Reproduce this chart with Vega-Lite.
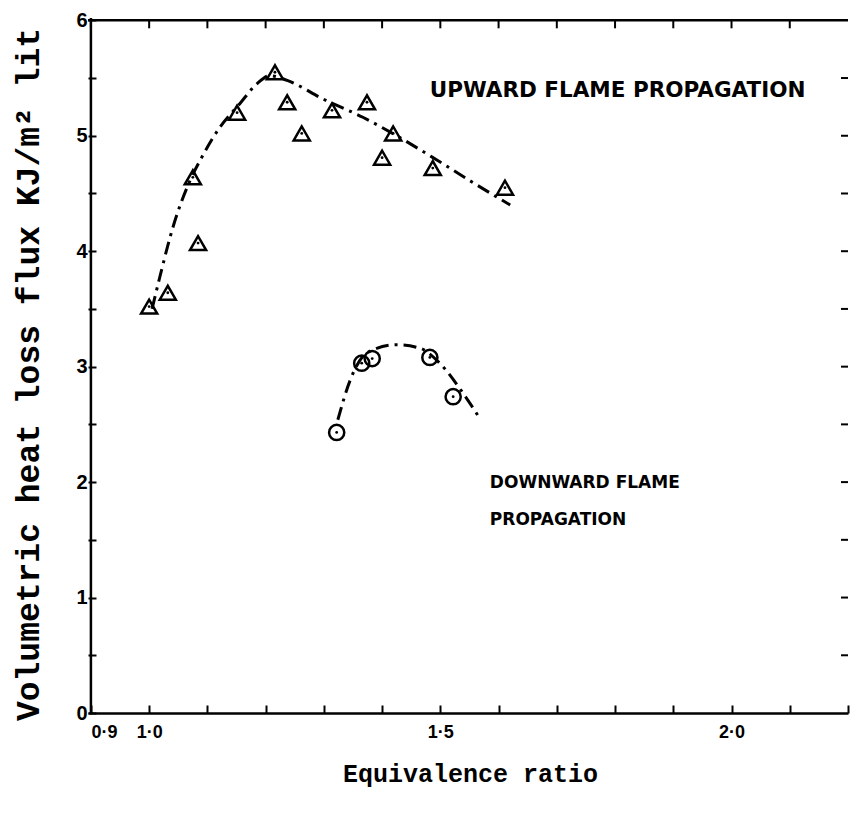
{
  "$schema": "https://vega.github.io/schema/vega-lite/v6.json",
  "width": 760,
  "height": 695,
  "autosize": {"type": "none"},
  "padding": {"left": 88, "top": 18, "right": 4, "bottom": 105},
  "background": "white",
  "config": {
    "view": {"stroke": null},
    "axis": {"grid": false, "domainColor": "black", "tickColor": "black", "labelColor": "black", "titleColor": "black", "domainWidth": 2.5, "tickWidth": 2}
  },
  "datasets": {
    "pts": [
      {"series": "up", "x": 1.0, "y": 3.52},
      {"series": "up", "x": 1.032, "y": 3.64},
      {"series": "up", "x": 1.084, "y": 4.07},
      {"series": "up", "x": 1.075, "y": 4.64},
      {"series": "up", "x": 1.151, "y": 5.2},
      {"series": "up", "x": 1.216, "y": 5.55},
      {"series": "up", "x": 1.237, "y": 5.29},
      {"series": "up", "x": 1.262, "y": 5.02},
      {"series": "up", "x": 1.314, "y": 5.22},
      {"series": "up", "x": 1.374, "y": 5.29},
      {"series": "up", "x": 1.4, "y": 4.81},
      {"series": "up", "x": 1.419, "y": 5.02},
      {"series": "up", "x": 1.487, "y": 4.72},
      {"series": "up", "x": 1.611, "y": 4.55},
      {"series": "down", "x": 1.322, "y": 2.43},
      {"series": "down", "x": 1.365, "y": 3.03},
      {"series": "down", "x": 1.383, "y": 3.07},
      {"series": "down", "x": 1.482, "y": 3.08},
      {"series": "down", "x": 1.522, "y": 2.74}
    ],
    "curves": [
      {"series": "up", "x": 1.005, "y": 3.5},
      {"series": "up", "x": 1.018, "y": 3.77},
      {"series": "up", "x": 1.041, "y": 4.21},
      {"series": "up", "x": 1.07, "y": 4.61},
      {"series": "up", "x": 1.09, "y": 4.81},
      {"series": "up", "x": 1.121, "y": 5.07},
      {"series": "up", "x": 1.156, "y": 5.28},
      {"series": "up", "x": 1.185, "y": 5.45},
      {"series": "up", "x": 1.207, "y": 5.52},
      {"series": "up", "x": 1.237, "y": 5.48},
      {"series": "up", "x": 1.298, "y": 5.32},
      {"series": "up", "x": 1.367, "y": 5.16},
      {"series": "up", "x": 1.425, "y": 5.0},
      {"series": "up", "x": 1.494, "y": 4.79},
      {"series": "up", "x": 1.551, "y": 4.61},
      {"series": "up", "x": 1.62, "y": 4.4},
      {"series": "down", "x": 1.324, "y": 2.54},
      {"series": "down", "x": 1.345, "y": 2.88},
      {"series": "down", "x": 1.374, "y": 3.12},
      {"series": "down", "x": 1.425, "y": 3.19},
      {"series": "down", "x": 1.465, "y": 3.16},
      {"series": "down", "x": 1.499, "y": 3.03},
      {"series": "down", "x": 1.539, "y": 2.77},
      {"series": "down", "x": 1.568, "y": 2.55}
    ],
    "notes": [
      {"kind": "up", "x": 1.482, "y": 5.39, "text": "UPWARD FLAME PROPAGATION"},
      {"kind": "down", "x": 1.585, "y": 1.99, "text": "DOWNWARD FLAME"},
      {"kind": "down", "x": 1.585, "y": 1.67, "text": "PROPAGATION"}
    ],
    "frame": [
      {"edge": "top-left", "x": 0.9, "y": 6}
    ],
    "xticks": [
      {"v": 0.9}, {"v": 1.0}, {"v": 1.1}, {"v": 1.2}, {"v": 1.3}, {"v": 1.4}, {"v": 1.5},
      {"v": 1.6}, {"v": 1.7}, {"v": 1.8}, {"v": 1.9}, {"v": 2.0}, {"v": 2.1}
    ],
    "yticks": [
      {"v": 0.5}, {"v": 1}, {"v": 1.5}, {"v": 2}, {"v": 2.5}, {"v": 3}, {"v": 3.5},
      {"v": 4}, {"v": 4.5}, {"v": 5}, {"v": 5.5}
    ]
  },
  "layer": [
    {
      "data": {"name": "curves"},
      "mark": {"type": "line", "color": "black", "strokeWidth": 3, "strokeDash": [13, 6, 3, 6], "interpolate": "monotone"},
      "encoding": {
        "x": {
          "field": "x", "type": "quantitative",
          "scale": {"domain": [0.895, 2.2], "nice": false, "zero": false},
          "axis": {
            "orient": "bottom",
            "values": [0.9, 1.0, 1.1, 1.2, 1.3, 1.4, 1.5, 1.6, 1.7, 1.8, 1.9, 2.0, 2.1, 2.2],
            "labelExpr": "datum.value == 0.9 ? '0·9' : datum.value == 1 ? '1·0' : datum.value == 1.5 ? '1·5' : datum.value == 2 ? '2·0' : ''",
            "labelAlign": {"condition": {"test": "datum.value == 0.9", "value": "left"}, "value": "center"},
            "tickSize": -8,
            "labelPadding": 18,
            "labelFont": "Liberation Sans",
            "labelFontWeight": "bold",
            "labelFontSize": 18,
            "title": "Equivalence ratio",
            "titleFont": "Liberation Mono",
            "titleFontWeight": "bold",
            "titleFontSize": 25,
            "titleX": 382,
            "titleY": 60,
            "titleBaseline": "middle",
            "titleAlign": "center"
          }
        },
        "y": {
          "field": "y", "type": "quantitative",
          "scale": {"domain": [0, 6.02], "nice": false, "zero": false},
          "axis": {
            "orient": "left",
            "values": [0, 0.5, 1, 1.5, 2, 2.5, 3, 3.5, 4, 4.5, 5, 5.5, 6],
            "labelExpr": "datum.value % 1 == 0 ? format(datum.value, 'd') : ''",
            "domain": false,
            "tickSize": -8,
            "labelPadding": 9,
            "labelFont": "Liberation Sans",
            "labelFontWeight": "bold",
            "labelFontSize": 20,
            "title": "Volumetric heat loss flux KJ/m² lit",
            "titleFont": "Liberation Mono",
            "titleFontWeight": "bold",
            "titleFontSize": 33,
            "titleX": -60,
            "titleY": 356,
            "titleAngle": 270,
            "titleBaseline": "middle",
            "titleAlign": "center"
          }
        },
        "detail": {"field": "series"}
      }
    },
    {
      "data": {"name": "frame"},
      "mark": {"type": "rule", "color": "black", "strokeWidth": 2.5},
      "encoding": {"y": {"field": "y", "type": "quantitative"}}
    },
    {
      "data": {"name": "frame"},
      "mark": {"type": "rule", "color": "black", "strokeWidth": 2.5},
      "encoding": {"x": {"field": "x", "type": "quantitative"}}
    },
    {
      "data": {"name": "xticks"},
      "mark": {"type": "tick", "orient": "vertical", "color": "black", "size": 8, "thickness": 2, "yOffset": 4, "opacity": 1},
      "encoding": {
        "x": {"field": "v", "type": "quantitative"},
        "y": {"datum": 6, "type": "quantitative"}
      }
    },
    {
      "data": {"name": "yticks"},
      "mark": {"type": "tick", "orient": "horizontal", "color": "black", "size": 7, "thickness": 2, "xOffset": -3.5, "opacity": 1},
      "encoding": {
        "x": {"datum": 2.2, "type": "quantitative"},
        "y": {"field": "v", "type": "quantitative"}
      }
    },
    {
      "data": {"name": "pts"},
      "transform": [{"filter": "datum.series == 'up'"}],
      "mark": {"type": "point", "shape": "triangle-up", "filled": false, "color": "black", "strokeWidth": 2.5, "size": 260, "opacity": 1},
      "encoding": {
        "x": {"field": "x", "type": "quantitative"},
        "y": {"field": "y", "type": "quantitative"}
      }
    },
    {
      "data": {"name": "pts"},
      "transform": [{"filter": "datum.series == 'down'"}],
      "mark": {"type": "point", "shape": "circle", "filled": false, "color": "black", "strokeWidth": 2.5, "size": 230, "opacity": 1},
      "encoding": {
        "x": {"field": "x", "type": "quantitative"},
        "y": {"field": "y", "type": "quantitative"}
      }
    },
    {
      "data": {"name": "pts"},
      "mark": {"type": "point", "shape": "circle", "filled": true, "color": "black", "size": 8, "opacity": 1},
      "encoding": {
        "x": {"field": "x", "type": "quantitative"},
        "y": {"field": "y", "type": "quantitative"}
      }
    },
    {
      "data": {"name": "notes"},
      "transform": [{"filter": "datum.kind == 'up'"}],
      "mark": {"type": "text", "align": "left", "baseline": "middle", "font": "DejaVu Sans", "fontWeight": "bold", "fontSize": 21.5, "color": "black"},
      "encoding": {
        "x": {"field": "x", "type": "quantitative"},
        "y": {"field": "y", "type": "quantitative"},
        "text": {"field": "text"}
      }
    },
    {
      "data": {"name": "notes"},
      "transform": [{"filter": "datum.kind == 'down'"}],
      "mark": {"type": "text", "align": "left", "baseline": "middle", "font": "DejaVu Sans", "fontWeight": "bold", "fontSize": 17, "color": "black"},
      "encoding": {
        "x": {"field": "x", "type": "quantitative"},
        "y": {"field": "y", "type": "quantitative"},
        "text": {"field": "text"}
      }
    }
  ]
}
